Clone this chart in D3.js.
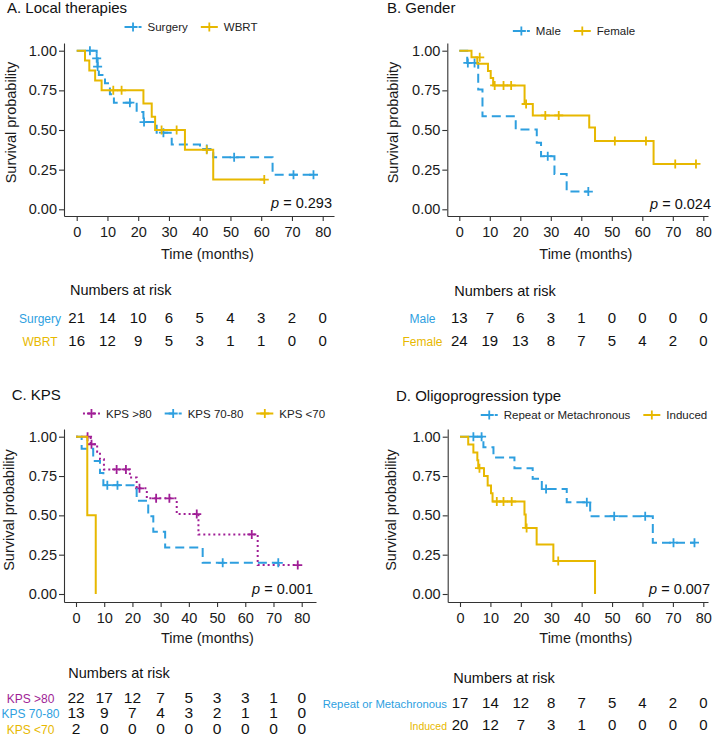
<!DOCTYPE html>
<html>
<head>
<meta charset="utf-8">
<script src="https://cdn.jsdelivr.net/npm/d3@7"></script>
<style>
  body { margin: 0; background: #fff; }
  text { font-family: "Liberation Sans", Arial, sans-serif; }
</style>
</head>
<body>
<script>
// shared ticks
var timeTicks = [0, 10, 20, 30, 40, 50, 60, 70, 80];
var survTicks = [0, 0.25, 0.5, 0.75, 1];

// A. Local therapies
var surgerySteps = [[0,1],[6.5,0.952],[6.8,0.9],[7.2,0.847],[9.2,0.794],[10.8,0.725],[12.1,0.672],[19.5,0.613],[21.7,0.55],[26.0,0.483],[30.9,0.408],[40.1,0.38],[44.4,0.328],[63.7,0.218]];
var surgeryCensor = [[4.3,1],[6.5,0.952],[6.8,0.9],[17.3,0.672],[21.9,0.55],[28.2,0.483],[42.3,0.38],[51.2,0.328],[70.5,0.218],[77.0,0.218]];
var wbrtSteps = [[0,1],[2.7,0.9375],[4.1,0.875],[6.0,0.8125],[8.1,0.75],[21.7,0.667],[24.4,0.583],[25.5,0.5],[35.2,0.375],[44.4,0.1875]];
var wbrtCensor = [[11.9,0.75],[14.6,0.75],[27.6,0.5],[32.5,0.5],[42.3,0.375],[61.0,0.1875]];
var surgeryRisk = [21, 14, 10, 6, 5, 4, 3, 2, 0];
var wbrtRisk = [16, 12, 9, 5, 3, 1, 1, 0, 0];

// B. Gender
var maleSteps = [[0,1],[2.6,0.923],[6.2,0.755],[7.6,0.587],[18.5,0.503],[25.4,0.419],[26.8,0.335],[31.2,0.223],[35.2,0.112]];
var maleCensor = [[2.8,0.923],[5.0,0.923],[29.0,0.335],[42.3,0.112]];
var femaleSteps = [[0,1],[4.0,0.958],[5.9,0.917],[9.4,0.872],[10.3,0.828],[11.1,0.781],[21.4,0.664],[24.1,0.592],[42.6,0.515],[44.5,0.431],[63.7,0.286]];
var femaleCensor = [[6.7,0.958],[11.6,0.781],[14.5,0.781],[17.0,0.781],[21.9,0.664],[28.2,0.592],[32.6,0.592],[51.0,0.431],[61.2,0.431],[70.8,0.286],[77.6,0.286]];
var maleRisk = [13, 7, 6, 3, 1, 0, 0, 0, 0];
var femaleRisk = [24, 19, 13, 8, 7, 5, 4, 2, 0];

// C. KPS
var kps80Steps = [[0,1],[5.2,0.952],[7.5,0.905],[8.5,0.857],[9.9,0.792],[19.1,0.74],[21.5,0.672],[25.1,0.608],[35.7,0.508],[43.4,0.379],[64.4,0.184]];
var kps80Censor = [[4.1,1],[5.5,0.952],[14.4,0.792],[17.7,0.792],[22.5,0.672],[28.4,0.608],[33.1,0.608],[42.8,0.508],[62.3,0.379],[78.6,0.184]];
var kps7080Steps = [[0,1],[2.0,0.923],[6.1,0.846],[8.5,0.769],[9.7,0.692],[21.5,0.593],[25.6,0.494],[27.4,0.395],[31.6,0.296],[44.9,0.198]];
var kps7080Censor = [[11.1,0.692],[14.7,0.692],[52.0,0.198],[71.7,0.198]];
var kps70Steps = [[0,1],[4.0,0.5],[7.0,0]];
var kps70Censor = [];
var kps80Risk = [22, 17, 12, 7, 5, 3, 3, 1, 0];
var kps7080Risk = [13, 9, 7, 4, 3, 2, 1, 1, 0];
var kps70Risk = [2, 0, 0, 0, 0, 0, 0, 0, 0];

// D. Oligoprogression type
var repeatSteps = [[0,1],[7.7,0.933],[11.0,0.867],[17.9,0.8],[23.9,0.733],[26.9,0.667],[35.1,0.583],[42.8,0.495],[63.4,0.326]];
var repeatCensor = [[4.4,1],[7.1,1],[28.3,0.667],[41.7,0.583],[50.7,0.495],[60.9,0.495],[70.2,0.326],[77.1,0.326]];
var inducedSteps = [[0,1],[2.7,0.95],[4.4,0.9],[5.7,0.85],[6.0,0.8],[7.9,0.75],[9.1,0.69],[10.2,0.64],[10.7,0.588],[21.2,0.505],[21.6,0.42],[25.2,0.315],[30.7,0.21],[44.4,0]];
var inducedCensor = [[6.4,0.8],[12.1,0.588],[14.3,0.588],[17.0,0.588],[21.9,0.42],[32.3,0.21]];
var repeatRisk = [17, 14, 12, 8, 7, 5, 4, 2, 0];
var inducedRisk = [20, 12, 7, 3, 1, 0, 0, 0, 0];

var yellow = "#E7B800", blue = "#2E9FDF", purple = "#A01E96";
var dashed = "9,5", dotted = "2,3", solid = null;

var svg = d3.select("body").append("svg")
    .attr("width", 719)
    .attr("height", 736);

function drawPanel(p) {
  var g = svg.append("g");

  // scales: 0 and 80 months / 0 and 1 survival pinned where the reference has them
  var base = d3.scaleLinear().domain([0, 80]).range([p.x0, p.x80]);
  var x = d3.scaleLinear().domain([base.invert(p.left), base.invert(p.right)]).range([p.left, p.right]);
  var ybase = d3.scaleLinear().domain([0, 1]).range([p.y0, p.y1]);
  var y = d3.scaleLinear().domain([ybase.invert(p.bottom), ybase.invert(p.top)]).range([p.bottom, p.top]);

  var yAxis = g.append("g")
    .attr("transform", "translate(" + p.left + ",0)")
    .call(d3.axisLeft(y).tickValues(survTicks).tickFormat(d3.format(".2f")).tickSize(5).tickPadding(2).tickSizeOuter(0));
  var xAxis = g.append("g")
    .attr("transform", "translate(0," + p.bottom + ")")
    .call(d3.axisBottom(x).tickValues(timeTicks).tickSize(5).tickPadding(6).tickSizeOuter(0));
  [xAxis, yAxis].forEach(function(a) {
    a.selectAll("path, line").attr("stroke", "#333").attr("stroke-width", 1.1);
    a.selectAll("text").attr("font-size", 14.5).attr("fill", "#1a1a1a")
      .style("font-family", '"Liberation Sans", Arial, sans-serif');
  });

  var line = d3.line()
    .x(function(d) { return x(d[0]); })
    .y(function(d) { return y(d[1]); })
    .curve(d3.curveStepAfter);

  p.series.forEach(function(s) {
    var pts = s.steps.slice();
    var last = pts[pts.length - 1];
    var end = d3.max(s.censor, function(d) { return d[0]; });
    if (end && end > last[0]) pts.push([end, last[1]]);
    g.append("path")
      .datum(pts)
      .attr("fill", "none")
      .attr("stroke", s.color)
      .attr("stroke-width", 2)
      .attr("stroke-dasharray", s.dash)
      .attr("d", line);
    g.selectAll(null)
      .data(s.censor)
      .enter().append("path")
      .attr("fill", "none")
      .attr("stroke", s.color)
      .attr("stroke-width", 1.8)
      .attr("d", function(d) {
        var cx = x(d[0]), cy = y(d[1]), r = 4.5;
        return "M" + (cx - r) + "," + cy + "H" + (cx + r) + "M" + cx + "," + (cy - r) + "V" + (cy + r);
      });
  });

  // title
  g.append("text").attr("x", p.titleX).attr("y", p.titleY)
    .attr("font-size", 15).attr("fill", "#111").text(p.title);

  // legend
  var lg = g.append("g");
  var cursor = 0;
  p.series.forEach(function(s, i) {
    var item = lg.append("g").attr("transform", "translate(" + cursor + ",0)");
    item.append("line").attr("x1", 0).attr("x2", 17).attr("y1", 0).attr("y2", 0)
      .attr("stroke", s.color).attr("stroke-width", 2).attr("stroke-dasharray", s.dash);
    item.append("path").attr("stroke", s.color).attr("stroke-width", 1.8)
      .attr("d", "M4,0H13M8.5,-4.5V4.5");
    var t = item.append("text").attr("x", 23).attr("dy", "0.35em")
      .attr("font-size", 11.5).attr("fill", "#222").text(s.name);
    cursor += 23 + t.node().getComputedTextLength() + 13;
  });
  cursor -= 13;
  lg.attr("transform", "translate(" + (p.legendCx - cursor / 2) + "," + p.legendY + ")");

  // axis titles
  g.append("text")
    .attr("transform", "translate(" + p.ylabX + "," + p.ylabY + ") rotate(-90)")
    .attr("text-anchor", "middle").attr("dy", "0.35em")
    .attr("font-size", 14.5).attr("fill", "#1a1a1a").text("Survival probability");
  g.append("text").attr("x", p.xlabX).attr("y", p.xlabY)
    .attr("text-anchor", "middle").attr("font-size", 14.5).attr("fill", "#1a1a1a")
    .text("Time (months)");

  // p value
  var pt = g.append("text").attr("x", p.pX).attr("y", p.pY)
    .attr("text-anchor", "end").attr("font-size", 14.5).attr("fill", "#111");
  pt.append("tspan").attr("font-style", "italic").text("p");
  pt.append("tspan").text(" = " + p.pval);

  // numbers at risk
  g.append("text").attr("x", p.riskX).attr("y", p.riskY)
    .attr("font-size", 14.5).attr("fill", "#111").text("Numbers at risk");
  p.series.forEach(function(s, i) {
    var ry = p.rowY[i];
    g.append("text").attr("x", p.labelX).attr("y", ry)
      .attr("text-anchor", p.labelAnchor)
      .attr("font-size", p.labelSize[i]).attr("fill", s.color).text(s.name);
    g.selectAll(null)
      .data(s.risk)
      .enter().append("text")
      .attr("x", function(d, j) { return x(timeTicks[j]); })
      .attr("y", ry)
      .attr("text-anchor", "middle")
      .attr("font-size", p.numSize).attr("fill", "#111")
      .text(function(d) { return d; });
  });
}

drawPanel({
  title: "A. Local therapies", titleX: 7, titleY: 12.5,
  left: 64, right: 334, x0: 76.7, x80: 322.7,
  top: 43, bottom: 216, y1: 50.7, y0: 209.3,
  legendCx: 191, legendY: 27,
  ylabX: 11, ylabY: 122.5, xlabX: 207.5, xlabY: 259.3,
  pX: 332, pY: 208, pval: "0.293",
  riskX: 70, riskY: 295, rowY: [323, 346], labelX: 40, labelAnchor: "middle",
  labelSize: [12, 12], numSize: 15,
  series: [
    {name: "Surgery", color: blue, dash: dashed, steps: surgerySteps, censor: surgeryCensor, risk: surgeryRisk},
    {name: "WBRT", color: yellow, dash: solid, steps: wbrtSteps, censor: wbrtCensor, risk: wbrtRisk}
  ]
});

drawPanel({
  title: "B. Gender", titleX: 387, titleY: 12.5,
  left: 447.3, right: 708, x0: 459.3, x80: 703.3,
  top: 43, bottom: 216, y1: 50.7, y0: 209.3,
  legendCx: 574, legendY: 31,
  ylabX: 393, ylabY: 122.5, xlabX: 585.8, xlabY: 259.3,
  pX: 711, pY: 209, pval: "0.024",
  riskX: 454.3, riskY: 296, rowY: [323.3, 345.7], labelX: 422.5, labelAnchor: "middle",
  labelSize: [12, 12], numSize: 15,
  series: [
    {name: "Male", color: blue, dash: dashed, steps: maleSteps, censor: maleCensor, risk: maleRisk},
    {name: "Female", color: yellow, dash: solid, steps: femaleSteps, censor: femaleCensor, risk: femaleRisk}
  ]
});

drawPanel({
  title: "C. KPS", titleX: 11.7, titleY: 400,
  left: 64, right: 316, x0: 76, x80: 301.7,
  top: 429, bottom: 602, y1: 436.7, y0: 594,
  legendCx: 204, legendY: 413.5,
  ylabX: 9, ylabY: 510, xlabX: 207.5, xlabY: 643.3,
  pX: 313, pY: 594, pval: "0.001",
  riskX: 68.3, riskY: 678.3, rowY: [702.7, 718.3, 734], labelX: 30.5, labelAnchor: "middle",
  labelSize: [12, 12, 12], numSize: 15.5,
  series: [
    {name: "KPS >80", color: purple, dash: dotted, steps: kps80Steps, censor: kps80Censor, risk: kps80Risk},
    {name: "KPS 70-80", color: blue, dash: dashed, steps: kps7080Steps, censor: kps7080Censor, risk: kps7080Risk},
    {name: "KPS <70", color: yellow, dash: solid, steps: kps70Steps, censor: kps70Censor, risk: kps70Risk}
  ]
});

drawPanel({
  title: "D. Oligoprogression type", titleX: 396, titleY: 400.7,
  left: 447.7, right: 708, x0: 460, x80: 703.3,
  top: 429, bottom: 602, y1: 436.7, y0: 594,
  legendCx: 594, legendY: 415,
  ylabX: 391, ylabY: 510, xlabX: 585.8, xlabY: 643,
  pX: 710, pY: 594, pval: "0.007",
  riskX: 453.3, riskY: 683, rowY: [708.3, 730], labelX: 447, labelAnchor: "end",
  labelSize: [11.3, 10.5], numSize: 15,
  series: [
    {name: "Repeat or Metachronous", color: blue, dash: dashed, steps: repeatSteps, censor: repeatCensor, risk: repeatRisk},
    {name: "Induced", color: yellow, dash: solid, steps: inducedSteps, censor: inducedCensor, risk: inducedRisk}
  ]
});
</script>
</body>
</html>
